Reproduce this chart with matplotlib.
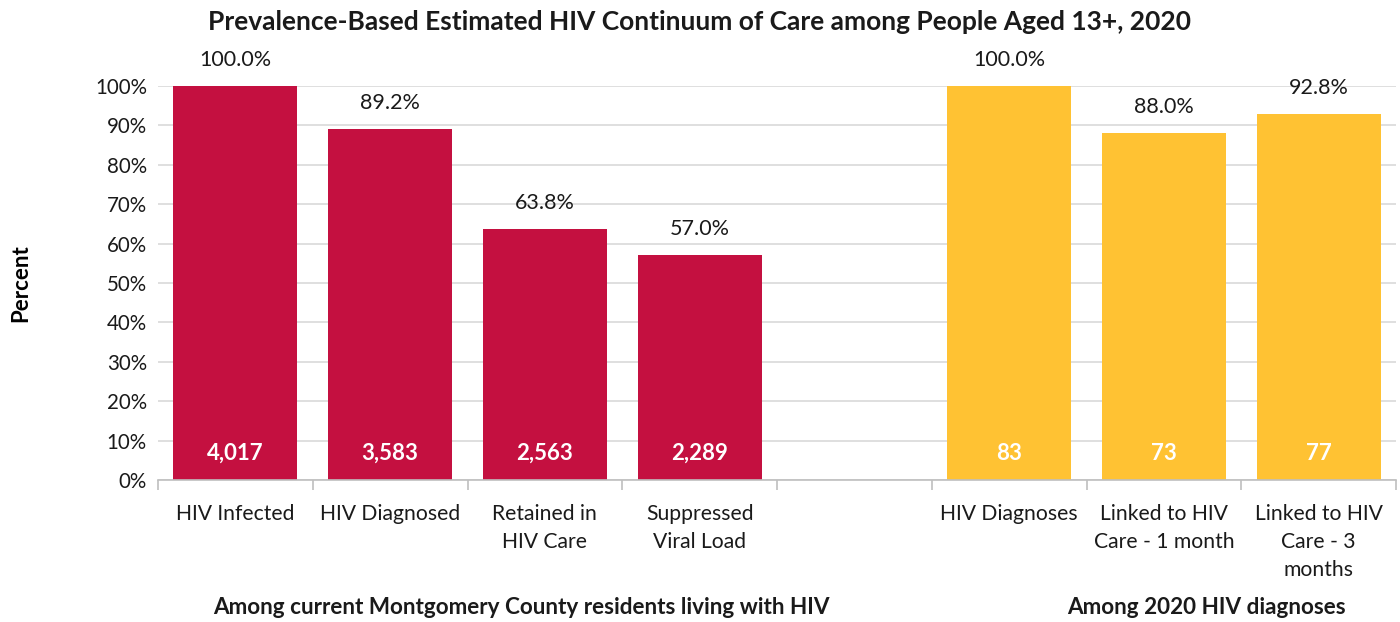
import matplotlib
matplotlib.use("Agg")
import matplotlib.pyplot as plt
import numpy as np

categories = ["HIV Infected", "HIV Diagnosed", "Retained in\nHIV Care", "Suppressed\nViral Load",
              "", "HIV Diagnoses", "Linked to HIV\nCare - 1 month", "Linked to HIV\nCare - 3\nmonths"]
percent = [100.0, 89.2, 63.8, 57.0, None, 100.0, 88.0, 92.8]
counts = ["4,017", "3,583", "2,563", "2,289", "", "83", "73", "77"]
groups = ["Among current Montgomery County residents living with HIV", "Among 2020 HIV diagnoses"]
red = "#C41040"
yellow = "#FFC233"
colors = [red, red, red, red, None, yellow, yellow, yellow]

plt.rcParams['font.family'] = ['Lato', 'DejaVu Sans']

fig = plt.figure(figsize=(14, 6.22), dpi=100)
ax = fig.add_axes([158/1400, 1-480/622, (1396-158)/1400, (480-86)/622])

x = np.arange(len(categories))
for i, (p, c, col) in enumerate(zip(percent, counts, colors)):
    if p is None:
        continue
    ax.bar(i, p, width=0.8, color=col, zorder=2)
    ax.text(i, p + 6.6, f"{p:.1f}%", ha="center", va="center", fontsize=15.5, color="#1a1a1a")
    ax.text(i, 6.8, c, ha="center", va="center", fontsize=16, color="white", fontweight="bold")

ax.set_xlim(-0.5, len(categories) - 0.5)
ax.set_ylim(0, 100)
ax.set_yticks(np.arange(0, 101, 10))
ax.set_yticklabels([f"{v}%" for v in range(0, 101, 10)], fontsize=14.8, color="#1a1a1a")
ax.yaxis.grid(True, color="#D9D9D9", linewidth=1.2, zorder=0)
ax.set_axisbelow(True)
for s in ["top", "right", "left"]:
    ax.spines[s].set_visible(False)
ax.spines["bottom"].set_color("#BFBFBF")
ax.spines["bottom"].set_linewidth(1.2)
ax.tick_params(axis="y", length=0, pad=8)

ax.set_xticks(x)
ax.set_xticklabels(categories, fontsize=15.2, color="#1a1a1a", linespacing=1.5, va="top")
ax.tick_params(axis="x", length=0, pad=17)
ax.set_xticks(np.arange(-0.5, len(categories), 1), minor=True)
ax.tick_params(axis="x", which="minor", length=7, color="#BFBFBF", width=1.2)

ax.set_ylabel("Percent", fontsize=16, fontweight="bold", labelpad=46)

fig.text(700/1400, 1-22/622, "Prevalence-Based Estimated HIV Continuum of Care among People Aged 13+, 2020",
         ha="center", va="center", fontsize=19, fontweight="bold", color="#1a1a1a")
fig.text(521/1400, 1-607/622, groups[0], ha="center", va="center", fontsize=16.2, fontweight="bold", color="#1a1a1a")
fig.text(1206/1400, 1-607/622, groups[1], ha="center", va="center", fontsize=16.2, fontweight="bold", color="#1a1a1a")

fig.savefig("out.png", dpi=100)
